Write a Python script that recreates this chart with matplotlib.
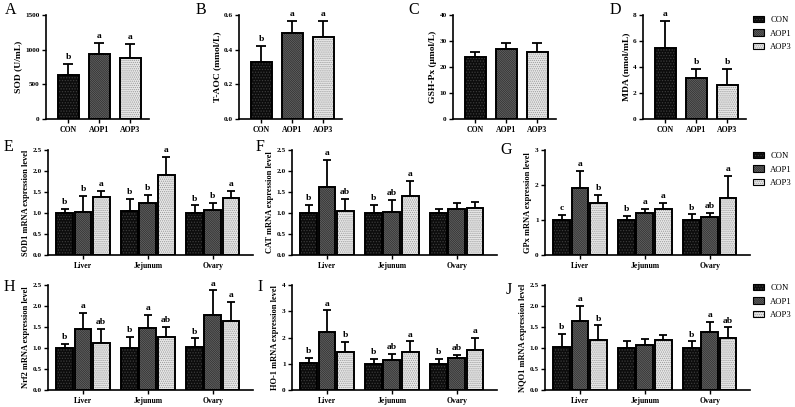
import numpy as np
import matplotlib
matplotlib.use("Agg")
import matplotlib.pyplot as plt
from matplotlib.patches import Patch

plt.rcParams['font.family'] = ['Liberation Serif', 'DejaVu Serif']
plt.rcParams['hatch.linewidth'] = 0.6

# ---- data ----
groups = ['CON', 'AOP1', 'AOP3']
tissues = ['Liver', 'Jejunum', 'Ovary']

sod_mean = [635, 937, 875]
sod_err = [160, 165, 212]
sod_sig = ['b', 'a', 'a']
taoc_mean = [0.327, 0.498, 0.471]
taoc_err = [0.096, 0.069, 0.096]
taoc_sig = ['b', 'a', 'a']
gsh_mean = [24.0, 26.9, 25.9]
gsh_err = [1.9, 2.2, 3.2]
gsh_sig = ['', '', '']
mda_mean = [5.49, 3.13, 2.59]
mda_err = [2.07, 0.72, 1.26]
mda_sig = ['a', 'b', 'b']

# rows = tissues, cols = groups
sod1_mean = [[1.00, 1.02, 1.37], [1.04, 1.23, 1.90], [1.01, 1.06, 1.35]]
sod1_err = [[0.09, 0.39, 0.15], [0.30, 0.21, 0.43], [0.17, 0.18, 0.18]]
sod1_sig = [['b', 'b', 'a'], ['b', 'b', 'a'], ['b', 'b', 'a']]
cat_mean = [[1.00, 1.61, 1.05], [1.00, 1.03, 1.41], [1.01, 1.09, 1.12]]
cat_err = [[0.19, 0.66, 0.28], [0.20, 0.28, 0.35], [0.08, 0.15, 0.15]]
cat_sig = [['b', 'a', 'ab'], ['b', 'ab', 'a'], ['', '', '']]
gpx_mean = [[1.01, 1.92, 1.48], [1.00, 1.21, 1.32], [1.00, 1.10, 1.62]]
gpx_err = [[0.14, 0.48, 0.24], [0.12, 0.11, 0.17], [0.16, 0.10, 0.64]]
gpx_sig = [['c', 'a', 'b'], ['b', 'a', 'a'], ['b', 'ab', 'a']]
nrf2_mean = [[1.00, 1.45, 1.11], [1.00, 1.48, 1.26], [1.03, 1.78, 1.65]]
nrf2_err = [[0.10, 0.38, 0.35], [0.26, 0.30, 0.24], [0.20, 0.59, 0.44]]
nrf2_sig = [['b', 'a', 'ab'], ['b', 'a', 'ab'], ['b', 'a', 'a']]
ho1_mean = [[1.02, 2.21, 1.46], [0.98, 1.13, 1.44], [1.00, 1.22, 1.54]]
ho1_err = [[0.21, 0.82, 0.37], [0.22, 0.25, 0.41], [0.18, 0.13, 0.46]]
ho1_sig = [['b', 'a', 'b'], ['b', 'ab', 'a'], ['b', 'ab', 'a']]
nqo1_mean = [[1.02, 1.65, 1.18], [1.01, 1.06, 1.18], [1.01, 1.37, 1.25]]
nqo1_err = [[0.31, 0.35, 0.36], [0.16, 0.15, 0.13], [0.15, 0.26, 0.24]]
nqo1_sig = [['b', 'a', 'b'], ['', '', ''], ['b', 'a', 'ab']]

# fill, hatch colour, hatch pattern per group
styles = [('#0c0c0c', '#3c3c3c', '.' * 6),
          ('#858585', '#2a2a2a', '\\' * 18),
          ('#e8e8e8', '#9a9a9a', '.' * 8)]

W, H = 795, 407
fig = plt.figure(figsize=(W / 100, H / 100), dpi=100)


def px_axes(left, top, right, bottom):
    return fig.add_axes([left / W, 1 - bottom / H, (right - left) / W, (bottom - top) / H])


def style_axes(ax, ylabel, yticks, ylabsize):
    for s in ['top', 'right']:
        ax.spines[s].set_visible(False)
    for s in ['left', 'bottom']:
        ax.spines[s].set_linewidth(1.2)
    ax.set_yticks(yticks)
    ax.set_ylim(yticks[0], yticks[-1])
    ax.tick_params(axis='y', length=3, width=1, pad=1.5, labelsize=5.2)
    ax.tick_params(axis='x', length=3, width=1, pad=2, labelsize=5.6)
    for lab in ax.get_yticklabels() + ax.get_xticklabels():
        lab.set_fontweight('bold')
    ax.set_ylabel(ylabel, fontsize=ylabsize, fontweight='bold', labelpad=2)


def draw_bars(ax, x, vals, errs, sigs, style, width, cap):
    face, hc, hatch = style
    ax.bar(x, vals, width, color=face, edgecolor=hc, linewidth=0, hatch=hatch, zorder=2)
    ax.bar(x, vals, width, fill=False, edgecolor='black', linewidth=1.4, zorder=3)
    ax.errorbar(x, vals, yerr=[np.zeros(len(vals)), errs], fmt='none', ecolor='black',
                elinewidth=1.3, capsize=cap, capthick=1.3, zorder=1)
    for xi, v, e, s in zip(x, vals, errs, sigs):
        if s:
            ax.annotate(s, (xi, v + e), xytext=(0, 2), textcoords='offset points',
                        ha='center', va='bottom', fontsize=6.8, fontweight='bold')


# ---- top row: serum indices ----
top_panels = [
    (46, 'SOD (U/mL)', [0, 500, 1000, 1500], sod_mean, sod_err, sod_sig),
    (239, 'T-AOC (mmol/L)', [0.0, 0.2, 0.4, 0.6], taoc_mean, taoc_err, taoc_sig),
    (453, 'GSH-Px (\u03bcmol/L)', [0, 10, 20, 30, 40], gsh_mean, gsh_err, gsh_sig),
    (643, 'MDA (nmol/mL)', [0, 2, 4, 6, 8], mda_mean, mda_err, mda_sig),
]
for left, ylab, yt, m, e, sg in top_panels:
    ax = px_axes(left, 15, left + 103, 119)
    x = np.arange(len(groups))
    for i in range(len(groups)):
        draw_bars(ax, [x[i]], [m[i]], [e[i]], [sg[i]], styles[i], 0.68, 3.6)
    ax.set_xlim(-0.72, 2.6)
    ax.set_xticks(x)
    ax.set_xticklabels(groups)
    style_axes(ax, ylab, yt, 6.8)
    if yt[-1] < 1:
        ax.yaxis.set_major_formatter(matplotlib.ticker.FormatStrFormatter('%.1f'))
        for lab in ax.get_yticklabels():
            lab.set_fontweight('bold')

# ---- gene expression panels ----
gene_panels = [
    (48, 150, 255, 'SOD1 mRNA expression level', [0.0, 0.5, 1.0, 1.5, 2.0, 2.5], sod1_mean, sod1_err, sod1_sig),
    (292, 150, 255, 'CAT mRNA expression level', [0.0, 0.5, 1.0, 1.5, 2.0, 2.5], cat_mean, cat_err, cat_sig),
    (545, 150, 255, 'GPx mRNA expression level', [0, 1, 2, 3], gpx_mean, gpx_err, gpx_sig),
    (48, 285, 390, 'Nrf2 mRNA expression level', [0.0, 0.5, 1.0, 1.5, 2.0, 2.5], nrf2_mean, nrf2_err, nrf2_sig),
    (292, 285, 390, 'HO-1 mRNA expression level', [0, 1, 2, 3, 4], ho1_mean, ho1_err, ho1_sig),
    (545, 285, 390, 'NQO1 mRNA expression level', [0.0, 0.5, 1.0, 1.5, 2.0, 2.5], nqo1_mean, nqo1_err, nqo1_sig),
]
for left, top, bottom, ylab, yt, m, e, sg in gene_panels:
    ax = px_axes(left, top, left + 205, bottom)
    m = np.array(m)
    e = np.array(e)
    xt = np.arange(len(tissues))
    for i in range(len(groups)):
        draw_bars(ax, xt + (i - 1) * 0.28, m[:, i], e[:, i], [r[i] for r in sg],
                  styles[i], 0.26, 2.8)
    ax.set_xlim(-0.54, 2.62)
    ax.set_xticks(xt)
    ax.set_xticklabels(tissues)
    style_axes(ax, ylab, yt, 6.0)
    if isinstance(yt[1], float):
        ax.yaxis.set_major_formatter(matplotlib.ticker.FormatStrFormatter('%.1f'))
        for lab in ax.get_yticklabels():
            lab.set_fontweight('bold')

# ---- legends ----
handles = []
for face, hc, hatch in styles:
    handles.append((Patch(facecolor=face, edgecolor=hc, linewidth=0, hatch=hatch),
                    Patch(fill=False, edgecolor='black', linewidth=0.8)))
for top in [16, 152, 284]:
    fig.legend(handles, groups, loc='upper left', bbox_to_anchor=(753 / W, 1 - top / H),
               frameon=False, fontsize=6.2, handlelength=1.3, handleheight=0.75,
               handletextpad=0.7, labelspacing=0.62, borderpad=0, borderaxespad=0)

# ---- panel letters ----
letters = [('A', 5, 10), ('B', 196, 10), ('C', 408, 10), ('D', 610, 10),
           ('E', 4, 147), ('F', 256, 147), ('G', 500, 150),
           ('H', 4, 287), ('I', 257, 287), ('J', 506, 290)]
for t, lx, ly in letters:
    fig.text(lx / W, 1 - ly / H, t, fontsize=11.5, ha='left', va='center')

fig.savefig('out.png', dpi=100)
